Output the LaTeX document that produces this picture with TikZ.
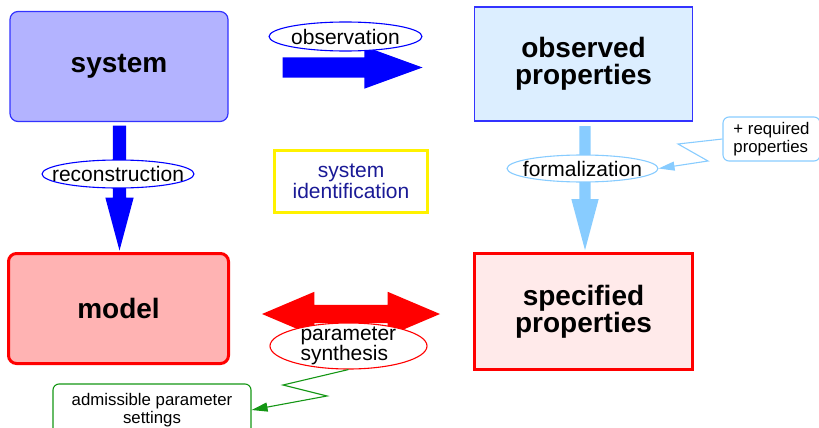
\documentclass[tikz,border=0pt]{standalone}
\usepackage{fontspec}
\setmainfont{Liberation Sans}
\usetikzlibrary{shapes.geometric,shapes.arrows,arrows.meta}

\definecolor{sysfill}{RGB}{179,179,255}
\definecolor{sysline}{RGB}{51,51,255}
\definecolor{obsfill}{RGB}{220,238,255}
\definecolor{lightblue}{RGB}{136,204,255}
\definecolor{specfill}{RGB}{255,234,234}
\definecolor{modelfill}{RGB}{255,179,179}
\definecolor{idtext}{RGB}{26,26,150}
\definecolor{notegreen}{RGB}{20,150,20}

\begin{document}
\begin{tikzpicture}[x=1pt,y=-1pt,
    mainbox/.style={minimum width=218pt,minimum height=110pt,inner sep=0pt,align=center,
        font=\fontsize{28}{27}\selectfont\bfseries},
    ovallabel/.style={ellipse,draw,fill=white,line width=1.1pt,inner sep=0pt,
        font={\fontsize{21}{17}\selectfont\lineskiplimit-\maxdimen}},
    notebox/.style={draw,rounded corners=6pt,line width=1.1pt,inner xsep=8pt,inner ysep=0pt,
        font=\fontsize{16.8}{17.5}\selectfont},
    blockarrow/.style={single arrow,fill,draw=none,inner xsep=0pt,minimum width=0pt}]

    \useasboundingbox (0,0) rectangle (819,428);

    % the four boxes
    \node[mainbox,fill=sysfill,draw=sysline,line width=1.2pt,rounded corners=8pt] (system) at (119,66.5) {system};
    \node[mainbox,fill=obsfill,draw=sysline,line width=1.2pt,minimum height=114pt] (observed) at (583.5,64) {observed\\properties};
    \node[mainbox,fill=modelfill,draw=red,line width=3pt,rounded corners=8pt,minimum width=220pt] (model) at (118.5,308.5) {model};
    \node[mainbox,fill=specfill,draw=red,line width=3pt,minimum height=116pt] (specified) at (583.5,311.5) {specified\\properties};

    \node[draw=yellow,line width=3.5pt,minimum width=153pt,minimum height=62pt,inner sep=0pt,align=center,
        text=idtext,font=\fontsize{21}{21}\selectfont] (sysid) at (351,181.5) {system\\identification};

    % block arrows
    \node[blockarrow,fill=blue,minimum height=140pt,inner ysep=10pt,
        single arrow head extend=11pt,single arrow tip angle=40] (observe) at (338.5,67.5) {};
    \node[blockarrow,fill=blue,rotate=-90,minimum height=125pt,inner ysep=6.5pt,
        single arrow head extend=7.5pt,single arrow tip angle=30] (reconstruct) at (119.5,175.5) {};
    \node[blockarrow,fill=lightblue,rotate=-90,minimum height=124pt,inner ysep=5.5pt,
        single arrow head extend=8pt,single arrow tip angle=30] (formalize) at (585,177.5) {};
    \node[double arrow,fill=red,inner xsep=0pt,inner ysep=9pt,minimum width=0pt,minimum height=178pt,
        double arrow head extend=13pt,double arrow tip angle=46] (synthesize) at (351,314) {};

    % labels on the arrows
    \node[ovallabel,draw=blue,minimum width=153pt,minimum height=29pt] (observation) at (345.5,36.5) {\makebox[0pt]{observation}};
    \node[ovallabel,draw=blue,minimum width=152pt,minimum height=28pt] (reconstruction) at (118,174) {\makebox[0pt]{reconstruction}};
    \node[ovallabel,draw=lightblue,minimum width=151pt,minimum height=27pt] (formalization) at (582.5,168.5) {\makebox[0pt]{formalization}};
    \node[ovallabel,draw=red,inner ysep=-3pt,minimum width=157pt,minimum height=46pt] (synthesis) at (348.5,346)
        {\makebox[0pt]{\parbox{96pt}{parameter\\synthesis}}};

    % notes
    \node[notebox,draw=lightblue,align=left,minimum width=97pt,minimum height=44pt] (required) at (771.5,139) {+ required\\properties};
    \node[notebox,draw=notegreen,align=center,minimum width=198pt,minimum height=52pt] (admissible) at (152,410) {admissible parameter\\settings};

    \draw[lightblue,line width=1.1pt,-{Triangle[length=16pt,width=9pt]}] (required.west) -- (678,144) -- (708,161) -- (formalization.east);
    \draw[notegreen,line width=1.1pt,-{Triangle[length=16pt,width=9pt]}] (synthesis.south) -- (283,385) -- (327,396) -- (admissible.east);

\end{tikzpicture}
\end{document}
